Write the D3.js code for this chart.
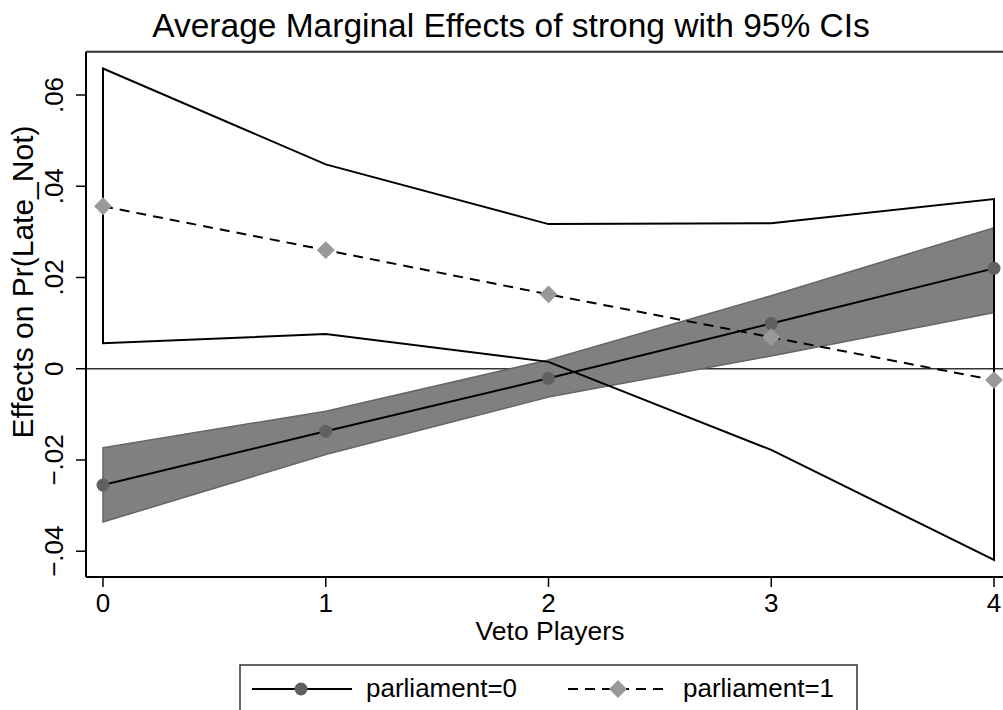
<!DOCTYPE html>
<html>
<head>
<meta charset="utf-8">
<script src="https://cdn.jsdelivr.net/npm/d3@7"></script>
<style>
body { margin: 0; background: #fff; }
text { font-family: "Liberation Sans", Arial, Helvetica, sans-serif; fill: #000; }
</style>
</head>
<body>
<div id="chart"></div>
<script>
// data
var vetoPlayers = [0, 1, 2, 3, 4];
var p0Est = [-0.0255, -0.0137, -0.0021, 0.0099, 0.0220];
var p0Lo  = [-0.0336, -0.0188, -0.0062, 0.0028, 0.0123];
var p0Hi  = [-0.0173, -0.0093, 0.0019, 0.0160, 0.0309];
var p1Est = [0.0356, 0.0260, 0.0163, 0.0069, -0.0025];
var p1Lo  = [0.0056, 0.0076, 0.0015, -0.0178, -0.0419];
var p1Hi  = [0.0658, 0.0448, 0.0317, 0.0319, 0.0372];
var yTicks = [-0.04, -0.02, 0, 0.02, 0.04, 0.06];
var yTickLabels = ["\u2212.04", "\u2212.02", "0", ".02", ".04", ".06"];
var xTicks = [0, 1, 2, 3, 4];
var legendLabels = ["parliament=0", "parliament=1"];

var W = 1003, H = 710;
var plotLeft = 86, plotTop = 51.7, plotBottom = 577, plotRight = 1003;

var svg = d3.select("#chart").append("svg").attr("width", W).attr("height", H);

var x = d3.scaleLinear().domain([0, 4]).range([103, 994]);
var y = d3.scaleLinear().domain([-0.04, 0.06]).range([551.2, 95]);

var p0 = vetoPlayers.map(function(v, i){ return {x: v, est: p0Est[i], lo: p0Lo[i], hi: p0Hi[i]}; });
var p1 = vetoPlayers.map(function(v, i){ return {x: v, est: p1Est[i], lo: p1Lo[i], hi: p1Hi[i]}; });

// title
svg.append("text").attr("x", 511).attr("y", 37).attr("text-anchor", "middle")
   .style("font-size", "33.5px").text("Average Marginal Effects of strong with 95% CIs");

// frame top line
svg.append("line").attr("x1", plotLeft).attr("x2", plotRight).attr("y1", plotTop).attr("y2", plotTop)
   .style("stroke", "#333").style("stroke-width", 2);

// zero line
svg.append("line").attr("x1", plotLeft).attr("x2", plotRight).attr("y1", y(0)).attr("y2", y(0))
   .style("stroke", "#333").style("stroke-width", 1.5);

// band for parliament=0
var area = d3.area().x(function(d){ return x(d.x); }).y0(function(d){ return y(d.lo); }).y1(function(d){ return y(d.hi); });
svg.append("path").datum(p0).attr("d", area)
   .style("fill", "#808080").style("stroke", "#666").style("stroke-width", 1.5);

// outline CI for parliament=1 (closed polygon, no fill)
var poly = p1.map(function(d){ return [x(d.x), y(d.hi)]; })
   .concat(p1.slice().reverse().map(function(d){ return [x(d.x), y(d.lo)]; }));
svg.append("path").attr("d", "M" + poly.join("L") + "Z")
   .style("fill", "none").style("stroke", "#000").style("stroke-width", 2)
   .style("stroke-linejoin", "miter");

var line = d3.line().x(function(d){ return x(d.x); }).y(function(d){ return y(d.est); });

svg.append("path").datum(p0).attr("d", line)
   .style("fill", "none").style("stroke", "#000").style("stroke-width", 2);
svg.selectAll(".m0").data(p0).enter().append("circle").attr("class", "m0")
   .attr("cx", function(d){ return x(d.x); }).attr("cy", function(d){ return y(d.est); })
   .attr("r", 6.5).style("fill", "#606060");

svg.append("path").datum(p1).attr("d", line)
   .style("fill", "none").style("stroke", "#000").style("stroke-width", 2)
   .style("stroke-dasharray", "10,7");
var diamond = d3.symbol().type(d3.symbolSquare).size(160);
svg.selectAll(".m1").data(p1).enter().append("path").attr("class", "m1")
   .attr("d", diamond)
   .attr("transform", function(d){ return "translate(" + x(d.x) + "," + y(d.est) + ") rotate(45)"; })
   .style("fill", "#999");

// y axis
svg.append("line").attr("x1", plotLeft).attr("x2", plotLeft).attr("y1", plotTop).attr("y2", plotBottom)
   .style("stroke", "#000").style("stroke-width", 2);
yTicks.forEach(function(t, i){
    svg.append("line").attr("x1", plotLeft - 10).attr("x2", plotLeft).attr("y1", y(t)).attr("y2", y(t))
       .style("stroke", "#000").style("stroke-width", 1.5);
    svg.append("text").attr("transform", "translate(63," + y(t) + ") rotate(-90)")
       .attr("text-anchor", "middle").style("font-size", "26px").text(yTickLabels[i]);
});
svg.append("text").attr("transform", "translate(33,282) rotate(-90)")
   .attr("text-anchor", "middle").style("font-size", "30px").text("Effects on Pr(Late_Not)");

// x axis
svg.append("line").attr("x1", plotLeft).attr("x2", plotRight).attr("y1", plotBottom).attr("y2", plotBottom)
   .style("stroke", "#000").style("stroke-width", 2);
xTicks.forEach(function(t){
    svg.append("line").attr("x1", x(t)).attr("x2", x(t)).attr("y1", plotBottom).attr("y2", plotBottom + 10)
       .style("stroke", "#000").style("stroke-width", 1.5);
    svg.append("text").attr("x", x(t)).attr("y", 612).attr("text-anchor", "middle")
       .style("font-size", "26px").text(t);
});
svg.append("text").attr("x", 550).attr("y", 640).attr("text-anchor", "middle")
   .style("font-size", "26.5px").text("Veto Players");

// legend
svg.append("rect").attr("x", 240).attr("y", 665).attr("width", 617).attr("height", 80)
   .style("fill", "#fff").style("stroke", "#333").style("stroke-width", 1.5);
svg.append("line").attr("x1", 252).attr("x2", 352).attr("y1", 689).attr("y2", 689)
   .style("stroke", "#000").style("stroke-width", 2);
svg.append("circle").attr("cx", 301).attr("cy", 689).attr("r", 6.5).style("fill", "#606060");
svg.append("text").attr("x", 366).attr("y", 697).style("font-size", "26px").text(legendLabels[0]);
svg.append("line").attr("x1", 568).attr("x2", 667).attr("y1", 689).attr("y2", 689)
   .style("stroke", "#000").style("stroke-width", 2).style("stroke-dasharray", "10,7");
svg.append("path").attr("d", diamond).attr("transform", "translate(618,689) rotate(45)").style("fill", "#999");
svg.append("text").attr("x", 683).attr("y", 697).style("font-size", "26px").text(legendLabels[1]);
</script>
</body>
</html>
